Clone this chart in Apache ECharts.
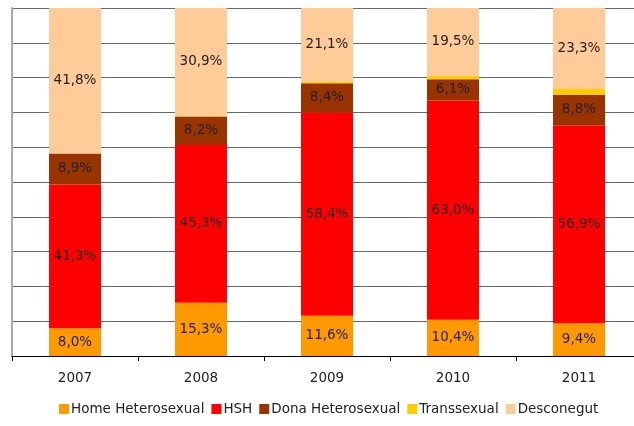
<!DOCTYPE html>
<html><head><meta charset="utf-8">
<script src="https://cdn.jsdelivr.net/npm/echarts@6/dist/echarts.min.js"></script>
<style>html,body{margin:0;padding:0;background:#fff;overflow:hidden;width:634px;height:426px}#c{width:642px;height:426px}</style>
</head><body><div id="c"></div>
<script>
var categories = ['2007','2008','2009','2010','2011'];
var homeHetero = [8.0, 15.3, 11.6, 10.4, 9.4];
var hsh = [41.3, 45.3, 58.4, 63.0, 56.9];
var donaHetero = [8.9, 8.2, 8.4, 6.1, 8.8];
var transsexual = [0.0, 0.3, 0.5, 1.0, 1.6];
var desconegut = [41.8, 30.9, 21.1, 19.5, 23.3];
var seriesNames = ['Home Heterosexual','HSH','Dona Heterosexual','Transsexual','Desconegut'];
var colors = ['#FF9900','#FF0000','#993300','#FFCC00','#FFCC99'];
var dataSets = [homeHetero, hsh, donaHetero, transsexual, desconegut];
var showLabel = [true, true, true, false, true];
var fontFam = 'DejaVu Sans, Verdana, sans-serif';
var chart = echarts.init(document.getElementById('c'), null, {renderer:'canvas'});
chart.setOption({
  animation:false,
  grid:{left:12, top:8, right:0, bottom:70, containLabel:false},
  legend:{bottom:5, left:54, itemWidth:10, itemHeight:10, itemGap:7, icon:'rect',
    textStyle:{fontFamily:fontFam, fontSize:13.5, color:'#222', padding:[0,0,0,-3]}, data:seriesNames},
  xAxis:{type:'category', data:categories,
    axisLine:{lineStyle:{color:'#000', width:1}},
    axisTick:{show:true, length:5, alignWithLabel:false, lineStyle:{color:'#000'}},
    axisLabel:{fontFamily:fontFam, fontSize:13.5, color:'#222', margin:15}},
  yAxis:{type:'value', min:0, max:100, interval:10,
    axisLine:{show:true, lineStyle:{color:'#aaa', width:2}},
    axisTick:{show:false}, axisLabel:{show:false},
    splitLine:{lineStyle:{color:'#666', width:1}}},
  series: dataSets.map(function(d,i){
    return {name:seriesNames[i], type:'bar', stack:'a', data:d, barWidth:52,
      itemStyle:{color:colors[i]},
      label:{show:showLabel[i], position:'inside', fontFamily:fontFam, fontSize:13.5, color:'#222',
        formatter:function(p){return p.value.toFixed(1).replace('.',',')+'%';}}};
  })
});
</script></body></html>
